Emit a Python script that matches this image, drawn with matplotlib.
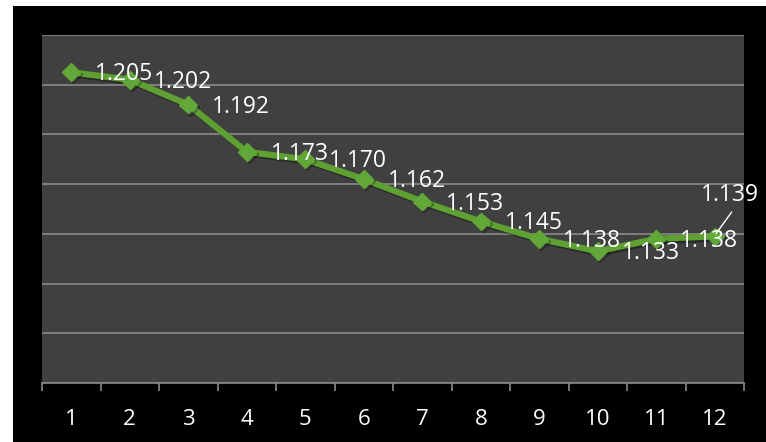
import matplotlib
matplotlib.use("Agg")
import matplotlib.pyplot as plt
from matplotlib.patches import Rectangle
import matplotlib.patheffects as pe

categories = ["1", "2", "3", "4", "5", "6", "7", "8", "9", "10", "11", "12"]
values = [1.205, 1.202, 1.192, 1.173, 1.170, 1.162, 1.153, 1.145, 1.138, 1.133, 1.138, 1.139]

plt.rcParams['font.family'] = ['Open Sans', 'DejaVu Sans']

W, H = 766, 442
fig = plt.figure(figsize=(W / 100, H / 100), dpi=100, facecolor='white')
fig.patches.append(Rectangle((13 / W, 0), 1 - 13 / W, (H - 6) / H, transform=fig.transFigure,
                             facecolor='black', edgecolor='none', zorder=-10))

ax = fig.add_axes([42 / W, (H - 383) / H, (744 - 42) / W, (383 - 35) / H])
ax.set_facecolor('#404040')

x = list(range(len(categories)))
ax.set_xlim(-0.5, len(categories) - 0.5)
ax.set_ylim(1.08, 1.22)
ax.set_yticks([1.08 + 0.02 * i for i in range(8)])
ax.yaxis.grid(True, color='#8a8a8a', linewidth=1.2)
ax.set_axisbelow(True)
ax.tick_params(axis='y', left=False, labelleft=False)

ax.set_xticks(x)
ax.set_xticklabels(categories, color='white', fontsize=16)
ax.tick_params(axis='x', length=0, pad=19)
ax.set_xticks([i - 0.5 for i in range(len(categories) + 1)], minor=True)
ax.tick_params(axis='x', which='minor', length=6, width=1.2, color='#8a8a8a', direction='out')

for s in ['top', 'left', 'right']:
    ax.spines[s].set_visible(False)
ax.spines['bottom'].set_color('#8a8a8a')
ax.spines['bottom'].set_linewidth(1.2)

shadow = [pe.SimpleLineShadow(offset=(1.5, -1.5), shadow_color='black', alpha=0.35), pe.Normal()]
ax.plot(x, values, color='#5ea132', linewidth=4.5, marker='D', markersize=9,
        markerfacecolor='#62a838', markeredgecolor='#62a838', markeredgewidth=1,
        path_effects=shadow, zorder=3, clip_on=False)

for i, v in enumerate(values[:-1]):
    ax.annotate(f"{v:.3f}", (x[i], v), xytext=(24, -2), textcoords='offset pixels',
                ha='left', va='center', color='white', fontsize=16.5, zorder=5)

ax.annotate(f"{values[-1]:.3f}", (x[-1], values[-1]), xytext=(-14, 41), textcoords='offset pixels',
            ha='left', va='center', color='white', fontsize=16.5, zorder=5,
            annotation_clip=False)
ax.annotate("", xy=(x[-1] + 0.02, values[-1] + 0.001), xytext=(x[-1] + 0.29, values[-1] + 0.0098),
            arrowprops=dict(arrowstyle='-', color='white', lw=1, shrinkA=0, shrinkB=0), zorder=6)

fig.savefig("out.png", dpi=100, facecolor='white')
